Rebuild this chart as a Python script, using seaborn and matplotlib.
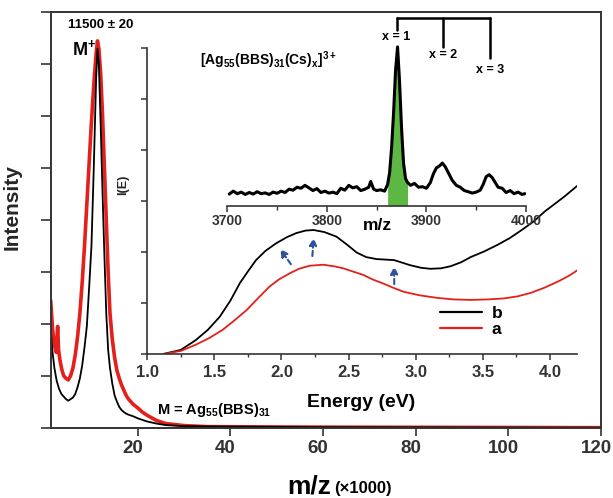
import matplotlib
matplotlib.use("Agg")

import numpy as np
import pandas as pd
import matplotlib.pyplot as plt
import seaborn as sns
from matplotlib import font_manager
from matplotlib.ticker import MultipleLocator, FormatStrFormatter
from matplotlib.transforms import ScaledTranslation


# main mass spectrum, m/z in thousands
MZ_B = [1.2, 1.6, 2.0, 2.5, 3.0, 3.5, 4.0, 4.5, 5.0, 5.5,
        6.0, 6.5, 7.0, 7.5, 8.0, 8.5, 9.0, 9.5, 10.0, 10.5,
        11.0, 11.3, 11.6, 12.0, 12.4, 12.8, 13.2, 13.6, 14.0, 14.5,
        15.0, 15.5, 16.0, 16.5, 17.0, 17.5, 18.0, 19.0, 20.0, 21.0,
        22.0, 24.0, 26.0, 30.0, 40.0, 60.0, 120.0]
INT_B = [1.90, 1.45, 1.15, 0.90, 0.75, 0.65, 0.60, 0.55, 0.52, 0.55,
         0.58, 0.65, 0.78, 0.95, 1.20, 1.55, 1.95, 2.70, 3.50, 5.00,
         6.70, 7.30, 7.00, 5.80, 4.50, 3.30, 2.20, 1.50, 1.15, 0.85,
         0.62, 0.50, 0.40, 0.34, 0.30, 0.27, 0.25, 0.22, 0.18, 0.15,
         0.12, 0.08, 0.05, 0.03, 0.02, 0.01, 0.00]

MZ_A = [1.2, 1.6, 2.0, 2.4, 2.7, 2.9, 3.2, 3.6, 4.0, 4.5, 5.0,
        5.5, 6.0, 6.5, 7.0, 7.5, 8.0, 8.5, 9.0, 9.5, 10.0,
        10.5, 11.0, 11.3, 11.6, 12.0, 12.4, 12.8, 13.2, 13.6, 14.0,
        14.5, 15.0, 15.5, 16.0, 16.5, 17.0, 17.5, 18.0, 19.0, 20.0,
        21.0, 22.0, 24.0, 26.0, 30.0, 35.0, 60.0, 120.0]
INT_A = [2.45, 1.90, 1.60, 1.45, 1.95, 1.50, 1.30, 1.12, 1.00, 0.95, 0.92,
         1.00, 1.15, 1.40, 1.75, 2.20, 2.80, 3.50, 4.30, 5.10, 5.90,
         6.60, 7.20, 7.45, 7.30, 6.80, 6.00, 5.00, 4.00, 3.00, 2.20,
         1.70, 1.35, 1.10, 0.95, 0.82, 0.72, 0.62, 0.55, 0.45, 0.38,
         0.30, 0.24, 0.14, 0.08, 0.04, 0.02, 0.01, 0.00]

MAIN_TICKS = [20, 40, 60, 80, 100, 120]

# absorption spectra (inset)
EV_B = [1.12, 1.25, 1.36, 1.45, 1.54, 1.62, 1.69, 1.75, 1.81, 1.88,
        1.96, 2.04, 2.11, 2.18, 2.24, 2.32, 2.41, 2.49, 2.56, 2.63,
        2.71, 2.78, 2.84, 2.90, 2.96, 3.04, 3.11, 3.19, 3.26, 3.34,
        3.41, 3.51, 3.61, 3.70, 3.79, 3.88, 3.96, 4.04, 4.11, 4.21]
ABS_B = [0.00, 0.08, 0.27, 0.47, 0.73, 1.05, 1.39, 1.62, 1.84, 2.02,
         2.17, 2.29, 2.37, 2.42, 2.43, 2.39, 2.30, 2.14, 1.99, 1.90,
         1.86, 1.85, 1.84, 1.79, 1.74, 1.69, 1.67, 1.68, 1.72, 1.80,
         1.90, 2.01, 2.14, 2.27, 2.43, 2.60, 2.79, 2.95, 3.09, 3.31]

EV_A = [1.12, 1.25, 1.36, 1.46, 1.56, 1.65, 1.74, 1.82, 1.91, 1.98,
        2.06, 2.13, 2.21, 2.31, 2.39, 2.46, 2.54, 2.61, 2.68, 2.76,
        2.84, 2.91, 3.03, 3.16, 3.28, 3.41, 3.54, 3.66, 3.76, 3.86,
        3.96, 4.06, 4.14, 4.21]
ABS_A = [0.00, 0.06, 0.18, 0.31, 0.47, 0.66, 0.86, 1.08, 1.32, 1.46,
         1.58, 1.67, 1.73, 1.75, 1.72, 1.68, 1.61, 1.55, 1.46, 1.38,
         1.29, 1.22, 1.15, 1.10, 1.07, 1.06, 1.07, 1.09, 1.13, 1.20,
         1.30, 1.42, 1.53, 1.65]

# arrows on curve b: (tail eV, tail I, head eV, head I)
ARROWS = [(2.07, 1.76, 1.99, 2.06),
          (2.23, 1.92, 2.24, 2.28),
          (2.84, 1.37, 2.84, 1.72)]

# 3+ ion spectrum (inner inset)
MZ_ION = [3702, 3706, 3710, 3714, 3718, 3722, 3726, 3730, 3734, 3738,
          3742, 3746, 3750, 3754, 3758, 3762, 3766, 3770, 3774, 3778,
          3782, 3786, 3790, 3794, 3798, 3802, 3806, 3810, 3814, 3818,
          3822, 3826, 3830, 3834, 3838, 3842, 3844, 3847, 3850, 3854,
          3858, 3861, 3863, 3865, 3867, 3869, 3871, 3873, 3875, 3877,
          3879, 3881, 3884, 3888, 3892, 3896, 3900, 3904, 3907, 3910,
          3913, 3916, 3919, 3922, 3926, 3930, 3934, 3938, 3942, 3946,
          3950, 3954, 3957, 3960, 3963, 3966, 3969, 3972, 3976, 3980,
          3984, 3988, 3992, 3996, 3999]
INT_ION = [0.060, 0.075, 0.062, 0.070, 0.058, 0.068, 0.060, 0.072, 0.062, 0.066,
           0.058, 0.070, 0.064, 0.075, 0.068, 0.085, 0.080, 0.095, 0.090, 0.105,
           0.092, 0.078, 0.088, 0.068, 0.075, 0.065, 0.070, 0.062, 0.090, 0.080,
           0.105, 0.092, 0.098, 0.078, 0.085, 0.095, 0.125, 0.085, 0.078, 0.082,
           0.075, 0.110, 0.170, 0.300, 0.480, 0.700, 0.820, 0.640, 0.400, 0.220,
           0.140, 0.120, 0.105, 0.115, 0.095, 0.098, 0.090, 0.120, 0.165, 0.195,
           0.205, 0.220, 0.200, 0.170, 0.130, 0.105, 0.095, 0.078, 0.072, 0.065,
           0.070, 0.080, 0.110, 0.150, 0.160, 0.145, 0.120, 0.095, 0.090, 0.068,
           0.078, 0.062, 0.070, 0.058, 0.062]
CS_PEAKS = [3870, 3917, 3964]
CS_LABELS = ["x = 1", "x = 2", "x = 3"]
FILL_RANGE = (3861, 3881)

RED = "#e3201b"
GREEN = "#5db843"
BLUE = "#3050a0"

sns.set_theme(style="ticks")
FONT = "Liberation Sans"
plt.rcParams["font.family"] = [FONT, "DejaVu Sans"]
plt.rcParams["font.weight"] = "bold"
plt.rcParams["mathtext.fontset"] = "custom"
plt.rcParams["mathtext.rm"] = f"{FONT}:bold"
plt.rcParams["mathtext.it"] = f"{FONT}:bold"
plt.rcParams["mathtext.bf"] = f"{FONT}:bold"
plt.rcParams["axes.edgecolor"] = "#333333"
plt.rcParams["xtick.color"] = "#333333"
plt.rcParams["ytick.color"] = "#333333"
plt.rcParams["text.color"] = "black"

fig = plt.figure(figsize=(6.13, 4.98), dpi=100)

# ---- main mass spectrum ----
ax = fig.add_axes([0.0827, 0.1412, 0.8977, 0.8341])
sns.lineplot(x=MZ_A, y=INT_A, ax=ax, color=RED, lw=2.6, estimator=None, sort=False)
sns.lineplot(x=MZ_B, y=INT_B, ax=ax, color="black", lw=1.3, estimator=None, sort=False)
ax.set_xlim(1.2, 120)
ax.set_ylim(0, 8)
ax.set_xticks(MAIN_TICKS)
ax.set_yticks(range(9))
ax.tick_params(axis="x", direction="out", length=6, width=1.2, labelsize=13.5, pad=3)
ax.tick_params(axis="y", direction="out", length=7, width=1.2, labelleft=False)
shift = ScaledTranslation(-5 / 100, 0, fig.dpi_scale_trans)
for lbl in ax.get_xticklabels():
    lbl.set_transform(lbl.get_transform() + shift)
for s in ax.spines.values():
    s.set_linewidth(1.4)
ax.set_xlabel("")
ax.set_ylabel("Intensity", fontsize=15, fontweight="bold")
ax.yaxis.set_label_coords(-0.052, 0.53)

fig.text(72 / 613, 1 - 48.5 / 498, "M$^{+}$", fontsize=13, ha="left", va="center")
fig.text(100.5 / 613, 1 - 25.3 / 498, "11500 \u00b1 20", fontsize=9.5, ha="center", va="center")
fig.text(157 / 613, 1 - 410 / 498, "M = Ag$_{55}$(BBS)$_{31}$", fontsize=10.5, ha="left", va="center")
fig.text(331 / 613, 1 - 493 / 498, "m/z", fontsize=19, ha="right", va="baseline")
fig.text(334 / 613, 1 - 493 / 498, "(\u00d71000)", fontsize=12, ha="left", va="baseline")

# ---- absorption inset ----
ax_abs = fig.add_axes([0.2403, 0.2892, 0.7005, 0.6145])
ax_abs.set_facecolor("none")
abs_df = pd.DataFrame({"eV": EV_B + EV_A,
                       "I": ABS_B + ABS_A,
                       "sample": ["b"] * len(EV_B) + ["a"] * len(EV_A)})
sns.lineplot(data=abs_df, x="eV", y="I", hue="sample", hue_order=["b", "a"],
             palette={"b": "black", "a": RED}, lw=1.3, estimator=None, sort=False, ax=ax_abs)
for x0, y0, x1, y1 in ARROWS:
    ax_abs.annotate("", xy=(x1, y1), xytext=(x0, y0),
                    arrowprops=dict(arrowstyle="-|>", color=BLUE, lw=1.5,
                                    linestyle=(0, (2.5, 1.5)), mutation_scale=11,
                                    shrinkA=0, shrinkB=0))
ax_abs.set_xlim(1.0, 4.2)
ax_abs.set_ylim(0, 6)
ax_abs.xaxis.set_major_locator(MultipleLocator(0.5))
ax_abs.xaxis.set_minor_locator(MultipleLocator(0.25))
ax_abs.xaxis.set_major_formatter(FormatStrFormatter("%.1f"))
ax_abs.set_yticks(range(7))
ax_abs.tick_params(axis="x", which="major", direction="out", length=4, width=1.1, labelsize=12, pad=4)
ax_abs.tick_params(axis="x", which="minor", direction="out", length=2.5, width=1.0)
ax_abs.tick_params(axis="y", direction="out", length=4, width=1.1, labelleft=False)
ax_abs.spines["top"].set_visible(False)
ax_abs.spines["right"].set_visible(False)
for s in ["left", "bottom"]:
    ax_abs.spines[s].set_linewidth(1.2)
ax_abs.set_xlabel("")
ax_abs.set_ylabel("I(E)", fontsize=9, fontweight="bold")
ax_abs.yaxis.set_label_coords(-0.043, 0.552)
leg = ax_abs.legend(frameon=False, loc="lower left", bbox_to_anchor=(0.645, 0.005),
                    fontsize=12.5, handlelength=2.4, handletextpad=0.6, labelspacing=0.05)
for line in leg.get_lines():
    line.set_linewidth(1.6)
fig.text(361 / 613, 1 - 402 / 498, "Energy (eV)", fontsize=14, ha="center", va="center")

# ---- Cs adduct spectrum inset ----
ax_ms = fig.add_axes([0.3708, 0.587, 0.4873, 0.3889])
ax_ms.set_facecolor("none")
mz_ion = np.array(MZ_ION)
int_ion = np.array(INT_ION)
inside = (mz_ion >= FILL_RANGE[0]) & (mz_ion <= FILL_RANGE[1])
ax_ms.fill_between(mz_ion[inside], 0, int_ion[inside], color=GREEN, lw=0, zorder=1)
sns.lineplot(x=MZ_ION, y=INT_ION, ax=ax_ms, color="black", lw=2.2, estimator=None, sort=False, zorder=2)
ax_ms.set_xlim(3700, 4000)
ax_ms.set_ylim(0, 1)
ax_ms.xaxis.set_major_locator(MultipleLocator(100))
ax_ms.xaxis.set_minor_locator(MultipleLocator(50))
ax_ms.tick_params(axis="x", which="major", direction="out", length=4, width=1.1, labelsize=10, pad=2)
ax_ms.tick_params(axis="x", which="minor", direction="out", length=3, width=1.0)
ax_ms.set_yticks([])
for s in ["left", "top", "right"]:
    ax_ms.spines[s].set_visible(False)
ax_ms.spines["bottom"].set_linewidth(1.2)
ax_ms.set_xlabel("")
ax_ms.set_ylabel("")
fig.text(377 / 613, 1 - 226 / 498, "m/z", fontsize=12.5, ha="center", va="center")

# bracket for Cs adducts
bracket_y = 0.971
line_ends = [0.907, 0.821, 0.761]
label_y = [0.872, 0.778, 0.700]
ax_ms.plot([CS_PEAKS[0], CS_PEAKS[-1]], [bracket_y, bracket_y], color="black", lw=1.8, clip_on=False)
for xp, ye, yl, lab in zip(CS_PEAKS, line_ends, label_y, CS_LABELS):
    ax_ms.plot([xp, xp], [bracket_y, ye], color="black", lw=1.8, clip_on=False)
    ax_ms.text(xp, yl, lab, fontsize=9, ha="center", va="center")
fig.text(200 / 613, 1 - 60 / 498, "[Ag$_{55}$(BBS)$_{31}$(Cs)$_{x}$]$^{3+}$",
         fontsize=10, ha="left", va="center")

fig.savefig("out.png", dpi=100)
